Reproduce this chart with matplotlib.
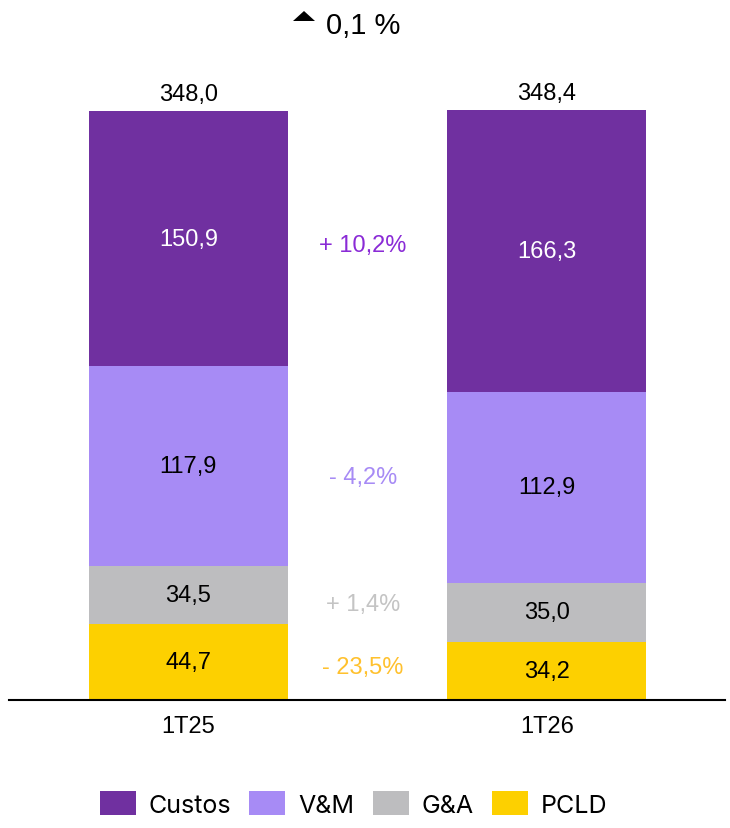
import matplotlib
matplotlib.use("Agg")
import matplotlib.pyplot as plt
from matplotlib.patches import Polygon
import numpy as np

periods = ["1T25", "1T26"]
series = ["PCLD", "G&A", "V&M", "Custos"]
values = {
    "PCLD": [44.7, 34.2],
    "G&A": [34.5, 35.0],
    "V&M": [117.9, 112.9],
    "Custos": [150.9, 166.3],
}
totals = [348.0, 348.4]
deltas = {"Custos": "+ 10,2%", "V&M": "- 4,2%", "G&A": "+ 1,4%", "PCLD": "- 23,5%"}
total_delta = "0,1 %"

colors = {"Custos": "#7030A0", "V&M": "#A78BF5", "G&A": "#BDBDBF", "PCLD": "#FDD000"}
delta_colors = {"Custos": "#8A2BD6", "V&M": "#A78BF5", "G&A": "#C4C4C4", "PCLD": "#FFC12E"}
text_colors = {"Custos": "white", "V&M": "black", "G&A": "black", "PCLD": "black"}

plt.rcParams["font.family"] = ["Liberation Sans", "DejaVu Sans"]
fs = 17

fig = plt.figure(figsize=(7.3, 8.29), dpi=100)
ax = fig.add_axes([9 / 730, 128 / 829, 716 / 730, 701 / 829])

x = np.arange(len(periods))
bottom = np.zeros(len(periods))
for s in series:
    v = np.array(values[s])
    ax.bar(x, v, 0.555, bottom=bottom, color=colors[s], label=s)
    mids = bottom + v / 2
    for i in range(len(periods)):
        ax.text(x[i], mids[i], f"{v[i]:.1f}".replace(".", ","),
                ha="center", va="center", fontsize=fs, color=text_colors[s])
    # change label sits between the two bars, halfway between segment centres
    ax.text(0.487, mids.mean(), deltas[s], ha="center", va="center",
            fontsize=fs, color=delta_colors[s])
    bottom += v

for i, t in enumerate(totals):
    ax.text(x[i], t + 10, f"{t:.1f}".replace(".", ","), ha="center", va="center",
            fontsize=fs, color="black")

ax.set_xlim(-0.50, 1.497)
ax.set_ylim(0, 414)
for sp in ["top", "right", "left"]:
    ax.spines[sp].set_visible(False)
ax.spines["bottom"].set_linewidth(1.5)
ax.set_yticks([])
ax.set_xticks(x)
ax.set_xticklabels(periods, fontsize=fs)
ax.tick_params(axis="x", length=0, pad=11)

# small up-arrow next to the total change
fig.patches.append(Polygon([(293 / 730, 1 - 22 / 829), (315 / 730, 1 - 22 / 829),
                            (304 / 730, 1 - 12 / 829)], closed=True,
                           transform=fig.transFigure, facecolor="black", lw=0))
fig.text(0.446, 0.969, total_delta, fontsize=21, ha="left", va="center")

handles, labels = ax.get_legend_handles_labels()
order = [3, 2, 1, 0]
fig.legend([handles[k] for k in order], [labels[k] for k in order],
           loc="center", bbox_to_anchor=(0.484, 0.029), ncol=4, frameon=False,
           handlelength=1.44, handleheight=1.12, columnspacing=0.75,
           handletextpad=0.5, prop={"family": "Inter", "size": 18})

fig.savefig("out.png", dpi=100)
